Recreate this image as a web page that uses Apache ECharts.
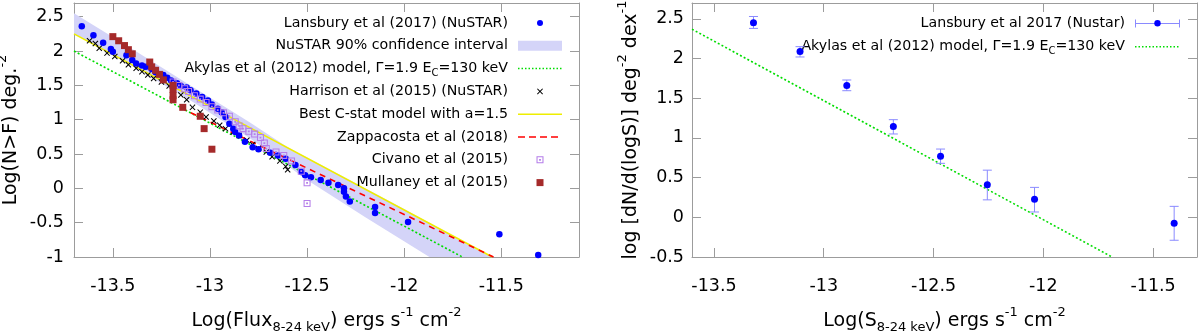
<!DOCTYPE html>
<html><head><meta charset="utf-8">
<script src="https://cdn.jsdelivr.net/npm/echarts@6/dist/echarts.min.js"></script>
<style>html,body{margin:0;padding:0;background:#fff}#c{width:1200px;height:336px}</style>
</head><body><div id="c"></div>
<script>
// ---------- tick labels ----------
const xTicks = [-13.5, -13, -12.5, -12, -11.5];
const yTicksL = [-1, -0.5, 0, 0.5, 1, 1.5, 2, 2.5];
const yTicksR = [-0.5, 0, 0.5, 1, 1.5, 2, 2.5];

// ---------- left panel data ----------
const lansX = [-13.66,-13.60,-13.55,-13.51,-13.50,-13.43,-13.40,-13.38,-13.35,-13.33,-13.30,-13.28,-13.24,-13.22,-13.20,-13.17,-13.15,-13.12,-13.10,-13.07,-13.04,-13.01,-12.99,-12.96,-12.94,-12.92,-12.90,-12.88,-12.87,-12.85,-12.82,-12.78,-12.75,-12.69,-12.65,-12.61,-12.56,-12.53,-12.51,-12.48,-12.43,-12.39,-12.34,-12.31,-12.31,-12.30,-12.28,-12.15,-12.15,-11.98,-11.51,-11.31];
const lansY = [2.36,2.23,2.12,2.03,1.99,1.94,1.87,1.82,1.79,1.77,1.74,1.69,1.65,1.61,1.57,1.53,1.49,1.47,1.43,1.38,1.33,1.28,1.22,1.16,1.11,1.04,0.94,0.87,0.82,0.77,0.68,0.60,0.57,0.52,0.48,0.43,0.34,0.24,0.19,0.16,0.12,0.08,0.05,0.00,-0.05,-0.12,-0.19,-0.27,-0.36,-0.49,-0.67,-0.97];

const harrX = [-13.62,-13.59,-13.57,-13.53,-13.49,-13.45,-13.42,-13.38,-13.35,-13.32,-13.29,-13.25,-13.21,-13.19,-13.15,-13.12,-13.09,-13.05,-13.02,-12.98,-12.95,-12.92,-12.88,-12.85,-12.81,-12.78,-12.75,-12.71,-12.68,-12.64,-12.61,-12.60];
const harrY = [2.15,2.11,2.04,1.97,1.92,1.86,1.80,1.75,1.70,1.65,1.60,1.55,1.49,1.44,1.36,1.29,1.18,1.11,1.04,0.98,0.92,0.87,0.82,0.77,0.70,0.64,0.58,0.53,0.46,0.40,0.32,0.27];

const civX = [-13.19,-13.16,-13.13,-13.11,-13.08,-13.05,-13.02,-12.99,-12.96,-12.93,-12.90,-12.87,-12.85,-12.83,-12.80,-12.77,-12.74,-12.72,-12.71,-12.66,-12.62,-12.58,-12.53,-12.50,-12.50];
const civY = [1.55,1.50,1.45,1.41,1.35,1.30,1.25,1.19,1.14,1.10,1.05,0.97,0.91,0.87,0.83,0.79,0.74,0.66,0.58,0.53,0.48,0.40,0.25,0.08,-0.22];

const mullX = [-13.50,-13.47,-13.44,-13.42,-13.40,-13.31,-13.30,-13.28,-13.26,-13.24,-13.19,-13.19,-13.19,-13.19,-13.14,-13.05,-13.03,-12.99];
const mullY = [2.21,2.15,2.08,2.02,1.96,1.84,1.77,1.72,1.66,1.58,1.50,1.44,1.35,1.29,1.18,1.05,0.87,0.57];

const bandUpX = [-13.7,-13.4,-13.1,-12.8,-12.6,-12.3,-12.0,-11.55];
const bandUpY = [2.55,2.03,1.50,0.97,0.60,0.15,-0.30,-1.0];
const bandLoX = [-13.7,-13.4,-13.1,-12.8,-12.5,-12.2,-11.87];
const bandLoY = [2.25,1.78,1.28,0.74,0.12,-0.42,-1.0];

const akyLX = [-13.7,-11.70];  const akyLY = [2.0,-1.0];
const bestX = [-13.7,-11.546]; const bestY = [2.25,-1.0];
const zappX = [-13.15,-11.54]; const zappY = [1.17,-1.0];

// ---------- right panel data ----------
const rX  = [-13.32,-13.108,-12.895,-12.683,-12.468,-12.255,-12.04,-11.404];
const rY  = [2.45,2.09,1.66,1.143,0.77,0.41,0.226,-0.075];
const rLo = [2.38,2.02,1.595,1.05,0.68,0.22,0.067,-0.289];
const rHi = [2.53,2.15,1.73,1.23,0.86,0.594,0.377,0.138];
const akyRX = [-13.6,-11.687]; const akyRY = [2.37,-0.5];

// ---------- names ----------
const N_LANS = 'Lansbury et al (2017) (NuSTAR)';
const N_BAND = 'NuSTAR 90% confidence interval';
const N_AKY  = 'Akylas et al (2012) model, \u0393=1.9 EC=130 keV';
const N_HARR = 'Harrison et al (2015) (NuSTAR)';
const N_BEST = 'Best C-stat model with a=1.5';
const N_ZAPP = 'Zappacosta et al (2018)';
const N_CIV  = 'Civano et al (2015)';
const N_MULL = 'Mullaney et al (2015)';
const N_LANSR = 'Lansbury et al 2017 (Nustar)';

// ---------- styles ----------
const FONT = 'DejaVu Sans';
const C_BLUE = '#0000ff', C_BAND = '#d4d4f8', C_GREEN = '#00dd00', C_YEL = '#eeee00',
      C_RED = '#ff0000', C_CIV = '#b57ee9', C_MULL = '#a52a2a', C_ERR = '#8a8aff', C_AX = '#9c9c9c';

const zip = (a, b) => a.map((v, i) => [v, b[i]]);

// path helpers (icon shapes)
function circ(cx, cy, r) { return `M${cx-r},${cy}a${r},${r} 0 1 0 ${2*r},0a${r},${r} 0 1 0 ${-2*r},0Z`; }
function rect(x, y, w, h) { return `M${x},${y}L${x+w},${y}L${x+w},${y+h}L${x},${y+h}Z`; }
function rectRev(x, y, w, h) { return `M${x},${y}L${x},${y+h}L${x+w},${y+h}L${x+w},${y}Z`; }
function cross(cx, cy, s) {
  const h = s/2, t = s*0.12;
  const p = [[-h,-h+t],[-h+t,-h],[0,-t],[h-t,-h],[h,-h+t],[t,0],[h,h-t],[h-t,h],[0,t],[-h+t,h],[-h,h-t],[-t,0]];
  return 'M' + p.map(q => `${(cx+q[0]).toFixed(2)},${(cy+q[1]).toFixed(2)}`).join('L') + 'Z';
}
function ring(cx, cy, s) {
  const h = s/2, t = s*0.15, d = s*0.13;
  return rect(cx-h, cy-h, s, s) + rectRev(cx-h+t, cy-h+t, s-2*t, s-2*t) + rect(cx-d, cy-d, 2*d, 2*d);
}
function dotted(w, cy) { let s = ''; for (let x = 0; x + 1.5 <= w; x += 3.5) s += rect(x, cy-0.75, 1.5, 1.5); return s; }
function dashed(w, cy) { let s = ''; for (let x = 0; x < w - 2; x += 11) s += rect(x, cy-0.75, Math.min(7, w-x), 1.5); return s; }

const BOXL = 'M0,0M44,14';
const BOXR = 'M0,0M45,14';

const civSymbol = 'path://' + ring(5, 5, 10);
const harrSymbol = 'path://' + cross(5, 5, 10);

function legendFmt(name) { return name.replace('EC=', 'E{sub|C}='); }
const legendText = {
  fontFamily: FONT, fontSize: 14.2, lineHeight: 22.8, color: '#000', padding: [0, 5, 0, 0],
  rich: { sub: { fontFamily: FONT, fontSize: 10, verticalAlign: 'bottom', padding: [0, 0, 2, 0], color: '#000' } }
};

const nameStyle = {
  fontFamily: FONT, fontSize: 19, lineHeight: 30, color: '#000',
  rich: {
    sub: { fontFamily: FONT, fontSize: 13, verticalAlign: 'bottom', padding: [0, 0, 2, 0], color: '#000' },
    sup: { fontFamily: FONT, fontSize: 13, verticalAlign: 'top', color: '#000' }
  }
};

function xAxisDef(grid, pos, min, max, name) {
  const main = pos === 'bottom';
  return {
    type: 'value', gridIndex: grid, position: pos, min: min, max: max,
    name: main ? name : '', nameLocation: 'middle', nameGap: 49, nameTextStyle: nameStyle,
    axisLine: { show: true, onZero: false, lineStyle: { color: C_AX, width: 1 } },
    axisTick: { show: true, inside: true, length: 9, customValues: xTicks, lineStyle: { color: C_AX } },
    axisLabel: { show: main, customValues: xTicks, margin: 20, fontFamily: FONT, fontSize: 17.5, color: '#000' },
    splitLine: { show: false }
  };
}
function yAxisDef(grid, pos, min, max, ticks, name, margin, gap) {
  const main = pos === 'left';
  return {
    type: 'value', gridIndex: grid, position: pos, min: min, max: max,
    name: main ? name : '', nameLocation: 'middle', nameGap: gap, nameRotate: 90, nameTextStyle: nameStyle,
    axisLine: { show: true, onZero: false, lineStyle: { color: C_AX, width: 1 } },
    axisTick: { show: true, inside: true, length: 9, customValues: ticks, lineStyle: { color: C_AX } },
    axisLabel: { show: main, customValues: ticks, margin: margin, fontFamily: FONT, fontSize: 17.5, color: '#000' },
    splitLine: { show: false }
  };
}

const option = {
  animation: false,
  backgroundColor: '#fff',
  grid: [
    { left: 74, top: 3, width: 505, height: 254, containLabel: false, outerBoundsMode: 'none' },
    { left: 692, top: 3, width: 505, height: 254, containLabel: false, outerBoundsMode: 'none' }
  ],
  xAxis: [
    xAxisDef(0, 'bottom', -13.7, -11.1, 'Log(Flux{sub|8-24 keV}) ergs s{sup|-1} cm{sup|-2}'),
    xAxisDef(0, 'top', -13.7, -11.1, ''),
    xAxisDef(1, 'bottom', -13.6, -11.3, 'Log(S{sub|8-24 keV}) ergs s{sup|-1} cm{sup|-2}'),
    xAxisDef(1, 'top', -13.6, -11.3, '')
  ],
  yAxis: [
    yAxisDef(0, 'left', -1, 2.7, yTicksL, 'Log(N>F) deg.{sup|-2}', 10, 37),
    yAxisDef(0, 'right', -1, 2.7, yTicksL, '', 10, 37),
    yAxisDef(1, 'left', -0.5, 2.7, yTicksR, 'log [dN/d(logS)] deg{sup|-2} dex{sup|-1}', 8, 40),
    yAxisDef(1, 'right', -0.5, 2.7, yTicksR, '', 8, 40)
  ],
  legend: [
    {
      orient: 'vertical', align: 'right', right: 638, top: 11.6, padding: 0, itemGap: 0,
      itemWidth: 44, itemHeight: 14, selectedMode: false, formatter: legendFmt, textStyle: legendText,
      itemStyle: { borderWidth: 0 },
      data: [
        { name: N_LANS, icon: 'path://' + BOXL + circ(22, 7, 3) },
        { name: N_BAND, icon: 'path://' + BOXL + rect(0, 2, 44, 10) },
        { name: N_AKY,  icon: 'path://' + BOXL + dotted(44, 7) },
        { name: N_HARR, icon: 'path://' + BOXL + cross(22, 7, 6) },
        { name: N_BEST, icon: 'path://' + BOXL + rect(0, 6.25, 44, 1.5) },
        { name: N_ZAPP, icon: 'path://' + BOXL + dashed(44, 7) },
        { name: N_CIV,  icon: 'path://' + BOXL + ring(22, 7, 7) },
        { name: N_MULL, icon: 'path://' + BOXL + rect(18.5, 3.5, 7, 7) }
      ]
    },
    {
      orient: 'vertical', align: 'right', right: 20, top: 11.8, padding: 0, itemGap: 0,
      itemWidth: 45, itemHeight: 14, selectedMode: false, formatter: legendFmt,
      textStyle: Object.assign({}, legendText, { lineHeight: 23.3 }),
      itemStyle: { borderWidth: 0 },
      data: [
        { name: N_LANSR, icon: 'path://' + BOXR + rect(0, 6.5, 45, 1) + rect(0, 3, 1, 8) + rect(44, 3, 1, 8), itemStyle: { color: C_ERR } },
        { name: N_AKY, icon: 'path://' + BOXR + dotted(45, 7) }
      ]
    },
    {
      orient: 'vertical', align: 'right', right: 20, top: 16.3, padding: 0, itemGap: 0,
      itemWidth: 45, itemHeight: 14, selectedMode: false, formatter: function () { return ''; },
      textStyle: { fontFamily: FONT, fontSize: 10, lineHeight: 14 },
      itemStyle: { borderWidth: 0 },
      data: [ { name: N_LANSR, icon: 'path://' + BOXR + circ(22.5, 7, 3.2) } ]
    }
  ],
  series: [
    {
      type: 'custom', name: N_BAND, xAxisIndex: 0, yAxisIndex: 0, z: 1, silent: true,
      itemStyle: { color: C_BAND },
      data: [[-13, 1]], encode: { x: 0, y: 1 },
      renderItem: function (params, api) {
        const pts = [];
        for (let i = 0; i < bandUpX.length; i++) pts.push(api.coord([bandUpX[i], bandUpY[i]]));
        for (let i = bandLoX.length - 1; i >= 0; i--) pts.push(api.coord([bandLoX[i], bandLoY[i]]));
        return { type: 'polygon', shape: { points: pts }, style: { fill: C_BAND } };
      }
    },
    {
      type: 'line', name: N_AKY, xAxisIndex: 0, yAxisIndex: 0, z: 3, symbol: 'none', silent: true,
      data: zip(akyLX, akyLY), itemStyle: { color: C_GREEN },
      lineStyle: { color: C_GREEN, width: 1.6, type: [2, 2.2] }
    },
    {
      type: 'line', name: N_BEST, xAxisIndex: 0, yAxisIndex: 0, z: 3, symbol: 'none', silent: true,
      data: zip(bestX, bestY), itemStyle: { color: C_YEL },
      lineStyle: { color: C_YEL, width: 1.6 }
    },
    {
      type: 'line', name: N_ZAPP, xAxisIndex: 0, yAxisIndex: 0, z: 3, symbol: 'none', silent: true,
      data: zip(zappX, zappY), itemStyle: { color: C_RED },
      lineStyle: { color: C_RED, width: 1.6, type: [6, 5] }
    },
    {
      type: 'scatter', name: N_HARR, xAxisIndex: 0, yAxisIndex: 0, z: 4, silent: true,
      data: zip(harrX, harrY), symbol: harrSymbol, symbolSize: 6, itemStyle: { color: '#000', opacity: 1 }
    },
    {
      type: 'scatter', name: N_LANS, xAxisIndex: 0, yAxisIndex: 0, z: 5, silent: true,
      data: zip(lansX, lansY), symbol: 'circle', symbolSize: 6.5, itemStyle: { color: C_BLUE, opacity: 1 }
    },
    {
      type: 'scatter', name: N_CIV, xAxisIndex: 0, yAxisIndex: 0, z: 6, silent: true,
      data: zip(civX, civY), symbol: civSymbol, symbolSize: 7, itemStyle: { color: C_CIV, opacity: 1 }
    },
    {
      type: 'scatter', name: N_MULL, xAxisIndex: 0, yAxisIndex: 0, z: 7, silent: true,
      data: zip(mullX, mullY), symbol: 'rect', symbolSize: 7, itemStyle: { color: C_MULL, opacity: 1 }
    },
    // ---- right panel ----
    {
      type: 'line', name: N_AKY, xAxisIndex: 2, yAxisIndex: 2, z: 3, symbol: 'none', silent: true,
      data: zip(akyRX, akyRY), itemStyle: { color: C_GREEN },
      lineStyle: { color: C_GREEN, width: 1.6, type: [2, 2.2] }
    },
    {
      type: 'custom', name: N_LANSR, xAxisIndex: 2, yAxisIndex: 2, z: 4, silent: true,
      itemStyle: { color: C_BLUE },
      data: rX.map((x, i) => [x, rY[i], rLo[i], rHi[i]]), encode: { x: 0, y: [1, 2, 3] },
      renderItem: function (params, api) {
        const x = api.value(0);
        const pLo = api.coord([x, api.value(2)]);
        const pHi = api.coord([x, api.value(3)]);
        const w = 4.5, st = { stroke: C_ERR, lineWidth: 1 };
        return { type: 'group', children: [
          { type: 'line', shape: { x1: pLo[0], y1: pLo[1], x2: pHi[0], y2: pHi[1] }, style: st },
          { type: 'line', shape: { x1: pLo[0] - w, y1: pLo[1], x2: pLo[0] + w, y2: pLo[1] }, style: st },
          { type: 'line', shape: { x1: pHi[0] - w, y1: pHi[1], x2: pHi[0] + w, y2: pHi[1] }, style: st }
        ] };
      }
    },
    {
      type: 'scatter', name: N_LANSR, xAxisIndex: 2, yAxisIndex: 2, z: 5, silent: true,
      data: zip(rX, rY), symbol: 'circle', symbolSize: 7, itemStyle: { color: C_BLUE, opacity: 1 }
    }
  ]
};

const chart = echarts.init(document.getElementById('c'), null, { renderer: 'canvas' });
chart.setOption(option);
</script>
</body></html>
